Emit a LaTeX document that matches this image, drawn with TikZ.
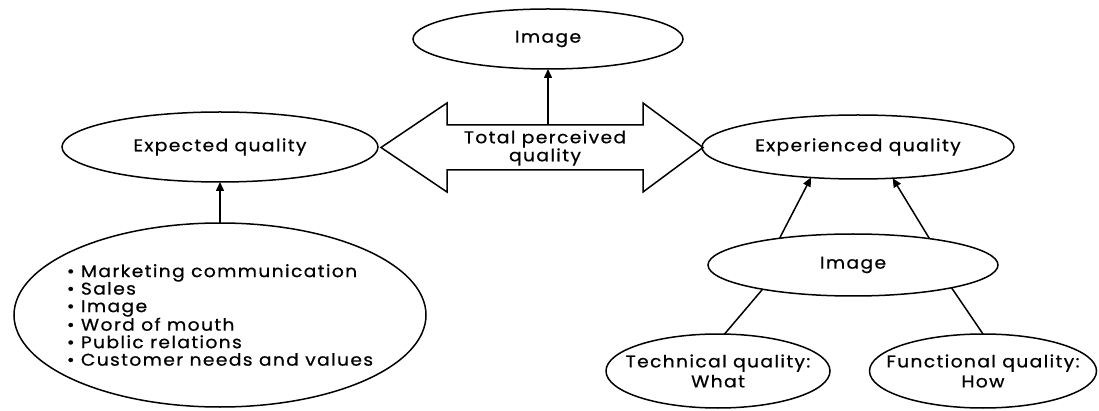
\documentclass[tikz,border=0pt]{standalone}
\usepackage{fontspec}
\setmainfont{Poppins}[FakeStretch=1.1,LetterSpace=8,FakeBold=0.6]
\usetikzlibrary{shapes.geometric,arrows.meta}
\begin{document}
\begin{tikzpicture}[x=1pt,y=-1pt,
  el/.style={draw,ellipse,line width=1.5pt,inner xsep=-60pt,inner ysep=-10pt,outer sep=0pt,align=center,font=\fontsize{17}{20}\selectfont},
  arr/.style={line width=1.5pt,-{Triangle[length=9pt,width=8pt]}},
  ln/.style={line width=1.5pt}]
\useasboundingbox (0,0) rectangle (1099,411);
\node[el,minimum width=270pt,minimum height=60pt] (imgtop) at (548,39) {Image};
\node[font=\fontsize{17}{18}\selectfont,align=center,minimum width=196pt,minimum height=45pt,inner sep=0pt,outer sep=0pt] (tpq) at (545,148) {Total perceived\\quality};
\draw[ln,line join=miter] (447,125) -- (447,103) -- (381,147.5) -- (447,192) -- (447,170) -- (643,170) -- (643,192) -- (703,147.5) -- (643,103) -- (643,125) -- cycle;
\node[el,minimum width=316pt,minimum height=70pt] (exp) at (220,147) {Expected quality};
\node[el,minimum width=412pt,minimum height=184pt,align=left,font=\fontsize{17}{17.5}\selectfont] (big) at (220,315) {• Marketing communication\\• Sales\\• Image\\• Word of mouth\\• Public relations\\• Customer needs and values};
\node[el,minimum width=312pt,minimum height=64pt] (exp2) at (858,147) {Experienced quality};
\node[el,minimum width=290pt,minimum height=62pt] (img2) at (853,265) {Image};
\node[el,minimum width=224pt,minimum height=74pt] (tech) at (718,371) {Technical quality:\\What};
\node[el,minimum width=227pt,minimum height=74pt] (func) at (983,371) {Functional quality:\\How};
\draw[arr] (548,125) -- (imgtop.south);
\draw[arr] (big.north) -- (exp.south);
\draw[arr] (img2.160) -- (exp2.213);
\draw[arr] (img2.19) -- (exp2.-42);
\draw[ln] (img2.-13) -- (func.north);
\draw[ln] (img2.195) -- (tech.80);
\end{tikzpicture}
\end{document}
